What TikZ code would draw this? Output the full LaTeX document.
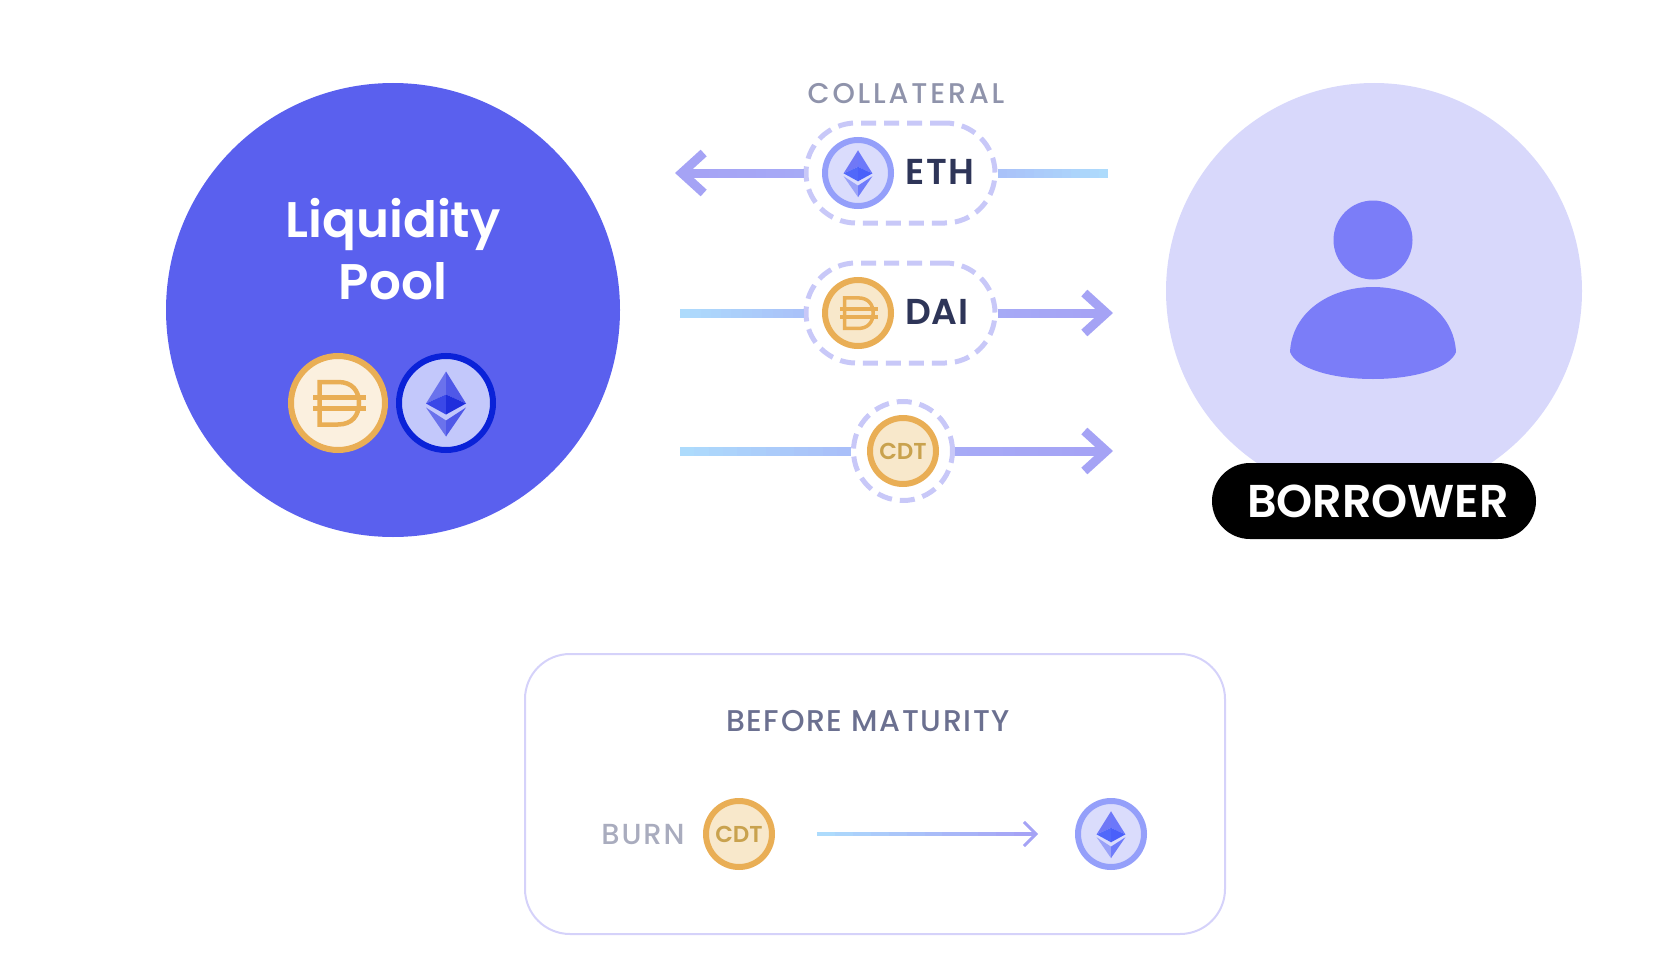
\documentclass[tikz,border=0pt]{standalone}
\usepackage{fontspec}
\setmainfont{Poppins}[UprightFont=* Medium,BoldFont=* SemiBold]
\usetikzlibrary{arrows.meta}
\usetikzlibrary{calc}

% Palette
\definecolor{poolBlue}{HTML}{5A60EE}
\definecolor{borrowerLilac}{HTML}{D8D8FB}
\definecolor{personBlue}{HTML}{7B7DF8}
\definecolor{dashLilac}{HTML}{C8C8F8}
\definecolor{flowBlue}{HTML}{ADDBFC}
\definecolor{flowPurple}{HTML}{A5A3F5}
\definecolor{daiRing}{HTML}{E9AE55}
\definecolor{daiFill}{HTML}{F8E8CB}
\definecolor{daiPale}{HTML}{FBF0DF}
\definecolor{ethRing}{HTML}{949FFA}
\definecolor{ethFill}{HTML}{DADCFC}
\definecolor{ethDeep}{HTML}{0A22D8}
\definecolor{ethPale}{HTML}{C3C8FB}
\definecolor{inkDark}{HTML}{2E3558}
\definecolor{inkMid}{HTML}{6B7090}
\definecolor{inkSoft}{HTML}{8F93AB}
\definecolor{inkPale}{HTML}{A9ACBE}
\definecolor{cdtInk}{HTML}{C9A24E}
\definecolor{boxLine}{HTML}{D5D2FA}
% Ether facets: big coin, small coins
\definecolor{bigA}{HTML}{6A72EC}
\definecolor{bigB}{HTML}{4F58E8}
\definecolor{bigC}{HTML}{3A48E8}
\definecolor{bigD}{HTML}{1F2EDC}
\definecolor{smallA}{HTML}{7078F6}
\definecolor{smallB}{HTML}{6C78FA}
\definecolor{smallC}{HTML}{5068FA}
\definecolor{smallD}{HTML}{4A60FA}
\definecolor{smallE}{HTML}{9AA2F8}
\definecolor{smallF}{HTML}{6F7CFA}

\tikzset{
  coinsmall/.style={circle, draw, line width=6pt, minimum size=66pt, inner sep=0pt},
  coinbig/.style={circle, draw, line width=6pt, minimum size=94pt, inner sep=0pt},
  dashpill/.style={draw=dashLilac, line width=5pt, dash pattern=on 15pt off 8pt,
    rounded corners=50pt, minimum width=189pt, minimum height=100pt, inner sep=0pt},
  dashring/.style={circle, draw=dashLilac, line width=5pt, dash pattern=on 15pt off 8pt,
    minimum size=99pt, inner sep=0pt},
  headbig/.style={flowPurple, line width=9pt, -{Straight Barb[length=22pt,width=40pt,line width=9pt]}},
  headthin/.style={flowPurple, line width=3.5pt, -{Straight Barb[length=12pt,width=24pt,line width=3pt]}},
  pics/ethmark/.style n args={6}{code={
    \fill[#1] (0,-.63) -- (-.40,.01) -- (0,-.17) -- cycle;
    \fill[#2] (0,-.63) -- (.40,.01) -- (0,-.17) -- cycle;
    \fill[#3] (-.40,.01) -- (0,-.17) -- (0,.23) -- cycle;
    \fill[#4] (.40,.01) -- (0,-.17) -- (0,.23) -- cycle;
    \fill[#5] (-.40,.09) -- (0,.35) -- (0,.67) -- cycle;
    \fill[#6] (.40,.09) -- (0,.35) -- (0,.67) -- cycle;
  }},
  pics/daimark/.style={code={
    \draw[daiRing, line width=#1] (-.37,-.42) -- (-.37,.43) -- (0,.43)
      .. controls (.28,.43) and (.42,.25) .. (.42,0)
      .. controls (.42,-.25) and (.28,-.42) .. (0,-.42) -- cycle;
    \draw[daiRing, line width=#1] (-.50,-.11) -- (.56,-.11);
    \draw[daiRing, line width=#1] (-.50,.11) -- (.56,.11);
  }},
}

% colour-stepped link: from, to, blue share at start, blue share at end, line width
\newcommand{\flowlink}[5]{
  \foreach \i in {0,...,11}{
    \pgfmathtruncatemacro{\blueshare}{#3+(#4-#3)*\i/11}
    \pgfmathsetmacro{\stepa}{\i/12}
    \pgfmathsetmacro{\stepb}{min((\i+1.15)/12,1)}
    \draw[flowBlue!\blueshare!flowPurple, line width=#5]
      ($(#1)!\stepa!(#2)$) -- ($(#1)!\stepb!(#2)$);
  }
}

\begin{document}
\begin{tikzpicture}[x=1pt,y=-1pt]
  \useasboundingbox (0,0) rectangle (1674,974);

  % Liquidity pool
  \node[circle, fill=poolBlue, minimum size=454pt, inner sep=0pt] (poolCircle) at (393,310) {};
  \node[anchor=base, white, font=\bfseries\fontsize{50}{60}\selectfont] (poolLabelA) at (393,237) {Liquidity};
  \node[anchor=base, white, font=\bfseries\fontsize{50}{60}\selectfont] (poolLabelB) at (393,299) {Pool};
  \node[coinbig, draw=daiRing, fill=daiPale] (poolDai) at (338,403) {};
  \node[coinbig, draw=ethDeep, fill=ethPale] (poolEth) at (446,403) {};
  \pic[scale=50] at (poolDai) {daimark=4.5pt};
  \pic[scale=50] at (poolEth) {ethmark={bigA}{bigB}{bigC}{bigD}{bigA}{bigB}};

  % Borrower
  \node[circle, fill=borrowerLilac, minimum size=416pt, inner sep=0pt] (borrowerCircle) at (1374,291) {};
  \node[circle, fill=personBlue, minimum size=79pt, inner sep=0pt] (personHead) at (1373,240) {};
  \fill[personBlue] (1290,352) .. controls (1292,312) and (1330,287) .. (1373,287)
    .. controls (1416,287) and (1454,312) .. (1456,352)
    .. controls (1450,368) and (1415,379) .. (1373,379)
    .. controls (1331,379) and (1296,368) .. (1290,352) -- cycle;
  \node[fill=black, rounded corners=38pt, minimum width=324pt, minimum height=76pt, inner sep=0pt] (borrowerTag) at (1374,501) {};
  \node[anchor=base, white, font=\bfseries\fontsize{46}{50}\selectfont] (borrowerLabel) at (1378,517) {BORROWER};

  % Flow rows
  \coordinate (ethStart) at (1108,173);
  \coordinate (ethNeck) at (690,173);
  \coordinate (ethEnd) at (675,173);
  \coordinate (daiStart) at (680,313);
  \coordinate (daiNeck) at (1098,313);
  \coordinate (daiEnd) at (1113,313);
  \coordinate (cdtStart) at (680,451);
  \coordinate (cdtNeck) at (1098,451);
  \coordinate (cdtEnd) at (1113,451);

  \node[anchor=base, inkSoft, font=\fontsize{28.5}{32}\selectfont\addfontfeature{LetterSpace=10}] (collateralLabel) at (906,103) {COLLATERAL};

  \node[dashpill] (ethPill) at (900.5,173) {};
  \node[dashpill] (daiPill) at (900.5,313) {};
  \node[dashring] (cdtRing) at (903,451) {};

  \flowlink{ethStart}{ethPill.east}{100}{55}{9pt}
  \flowlink{ethPill.west}{ethNeck}{12}{0}{9pt}
  \flowlink{daiStart}{daiPill.west}{100}{55}{9pt}
  \flowlink{daiPill.east}{daiNeck}{12}{0}{9pt}
  \flowlink{cdtStart}{cdtRing.west}{100}{50}{9pt}
  \flowlink{cdtRing.east}{cdtNeck}{12}{0}{9pt}

  \draw[headbig] (ethNeck) -- (ethEnd);
  \draw[headbig] (daiNeck) -- (daiEnd);
  \draw[headbig] (cdtNeck) -- (cdtEnd);

  \node[coinsmall, draw=ethRing, fill=ethFill] (ethCoin) at (858,173) {};
  \pic[scale=36] at (ethCoin) {ethmark={smallA}{smallB}{smallC}{smallD}{smallE}{smallF}};
  \node[anchor=base west, inkDark, inner sep=0pt, font=\bfseries\fontsize{36}{40}\selectfont\addfontfeature{LetterSpace=5}] (ethLabel) at (905,184) {ETH};

  \node[coinsmall, draw=daiRing, fill=daiFill] (daiCoin) at (858,313) {};
  \pic[scale=36] at (daiCoin) {daimark=3.5pt};
  \node[anchor=base west, inkDark, inner sep=0pt, font=\bfseries\fontsize{36}{40}\selectfont\addfontfeature{LetterSpace=2}] (daiLabel) at (905,324) {DAI};

  \node[coinsmall, draw=daiRing, fill=daiFill] (cdtCoin) at (903,451) {};
  \node[anchor=base, cdtInk, inner sep=0pt, font=\bfseries\fontsize{23}{26}\selectfont] (cdtLabel) at (903,459) {CDT};

  % Before maturity box
  \node[draw=boxLine, line width=2pt, rounded corners=45pt, minimum width=700pt, minimum height=280pt, inner sep=0pt] (maturityBox) at (875,794) {};
  \node[anchor=base, inkMid, font=\fontsize{30}{34}\selectfont\addfontfeature{LetterSpace=5.3}] (maturityLabel) at (868,731) {BEFORE MATURITY};
  \node[anchor=base, inkPale, font=\fontsize{29}{32}\selectfont\addfontfeature{LetterSpace=6.5}] (burnLabel) at (643,844) {BURN};
  \node[coinsmall, draw=daiRing, fill=daiFill] (burnCoin) at (739,834) {};
  \node[anchor=base, cdtInk, inner sep=0pt, font=\bfseries\fontsize{23}{26}\selectfont] (burnCdtLabel) at (739,842) {CDT};
  \node[coinsmall, draw=ethRing, fill=ethFill] (burnEth) at (1111,834) {};
  \pic[scale=36] at (burnEth) {ethmark={smallA}{smallB}{smallC}{smallD}{smallE}{smallF}};

  \coordinate (burnStart) at (817,834);
  \coordinate (burnNeck) at (1032,834);
  \coordinate (burnEnd) at (1038,834);
  \flowlink{burnStart}{burnNeck}{100}{0}{3.5pt}
  \draw[headthin] (burnNeck) -- (burnEnd);

\end{tikzpicture}
\end{document}
